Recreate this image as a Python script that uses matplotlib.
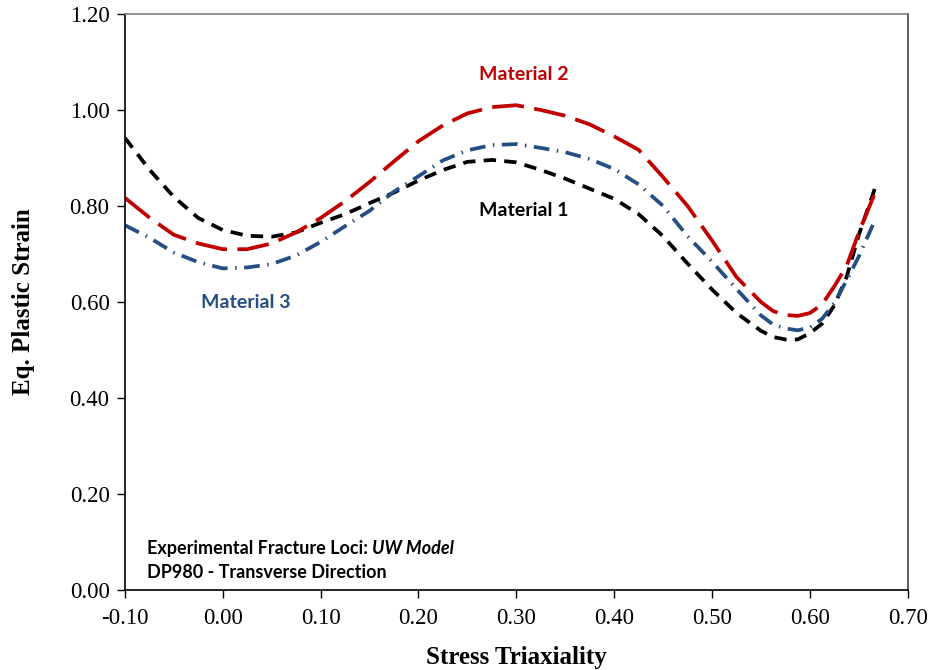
import matplotlib
matplotlib.use("Agg")
import matplotlib.pyplot as plt
from matplotlib.ticker import FormatStrFormatter

# stress triaxiality values where the curves were read
triax = [-0.100, -0.075, -0.050, -0.025, 0.000, 0.025, 0.050, 0.075, 0.100,
         0.125, 0.150, 0.175, 0.200, 0.225, 0.250, 0.275, 0.300, 0.325,
         0.350, 0.375, 0.400, 0.425, 0.450, 0.475, 0.500, 0.525, 0.550,
         0.5625, 0.575, 0.5875, 0.600, 0.6125, 0.625, 0.6375, 0.650, 0.667]

mat1 = [0.942, 0.876, 0.819, 0.775, 0.750, 0.738, 0.736, 0.745, 0.765,
        0.783, 0.806, 0.828, 0.853, 0.875, 0.892, 0.896, 0.891, 0.875,
        0.857, 0.836, 0.815, 0.783, 0.737, 0.680, 0.626, 0.577, 0.540,
        0.527, 0.522, 0.522, 0.535, 0.555, 0.593, 0.652, 0.740, 0.840]

mat2 = [0.817, 0.776, 0.740, 0.722, 0.710, 0.710, 0.722, 0.745, 0.775,
        0.810, 0.850, 0.893, 0.935, 0.968, 0.993, 1.006, 1.010, 1.000,
        0.988, 0.970, 0.945, 0.917, 0.860, 0.800, 0.728, 0.652, 0.600,
        0.581, 0.573, 0.571, 0.577, 0.595, 0.633, 0.675, 0.745, 0.830]

mat3 = [0.760, 0.734, 0.703, 0.683, 0.670, 0.672, 0.679, 0.697, 0.725,
        0.758, 0.790, 0.830, 0.862, 0.895, 0.916, 0.927, 0.929, 0.921,
        0.912, 0.898, 0.877, 0.845, 0.800, 0.737, 0.684, 0.627, 0.572,
        0.553, 0.545, 0.541, 0.547, 0.565, 0.598, 0.645, 0.695, 0.773]

xticks = [-0.10, 0.00, 0.10, 0.20, 0.30, 0.40, 0.50, 0.60, 0.70]
yticks = [0.00, 0.20, 0.40, 0.60, 0.80, 1.00, 1.20]

RED = "#C00000"
BLUE = "#254F82"
serif = "Liberation Serif"
sans = "Lato"

fig = plt.figure(figsize=(9.32, 6.70), dpi=100)
ax = fig.add_axes([0.134, 0.1194, 0.840, 0.8597])

lw = 2.7
ax.plot(triax, mat1, color="black", lw=lw, dashes=(3.3, 2.2))
ax.plot(triax, mat2, color=RED, lw=lw, dashes=(8.5, 2.8))
ax.plot(triax, mat3, color=BLUE, lw=lw, dashes=(4.2, 2.0, 0.4, 2.0))

ax.set_xlim(-0.10, 0.70)
ax.set_ylim(0.0, 1.20)
ax.set_xticks(xticks)
ax.set_yticks(yticks)
ax.xaxis.set_major_formatter(FormatStrFormatter("%.2f"))
ax.yaxis.set_major_formatter(FormatStrFormatter("%.2f"))
ax.tick_params(direction="out", length=6, width=1, labelsize=16.5, pad=5)
ax.tick_params(axis="x", pad=7)
for lab in ax.get_xticklabels() + ax.get_yticklabels():
    lab.set_family(serif)

ax.spines["left"].set_color("black")
ax.spines["bottom"].set_color("black")
ax.spines["top"].set_color("#808080")
ax.spines["right"].set_color("#404040")
for s in ax.spines.values():
    s.set_linewidth(1.2)

ax.set_xlabel("Stress Triaxiality", family=serif, fontsize=18, fontweight="bold", labelpad=12)
ax.set_ylabel("Eq. Plastic Strain", family=serif, fontsize=18, fontweight="bold", labelpad=25)

ax.text(0.308, 1.073, "Material 2", color=RED, family=sans, fontsize=14,
        fontweight="bold", ha="center", va="center")
ax.text(0.308, 0.790, "Material 1", color="black", family=sans, fontsize=14,
        fontweight="bold", ha="center", va="center")
ax.text(0.024, 0.598, "Material 3", color=BLUE, family=sans, fontsize=14,
        fontweight="bold", ha="center", va="center")

t1 = ax.text(-0.0775, 0.074, "Experimental Fracture Loci: ", family=sans, fontsize=13,
             fontweight="bold", ha="left", va="baseline")
ax.annotate("UW Model", xy=(1, 0), xycoords=t1, family=sans, fontsize=13,
            fontweight="bold", style="italic", ha="left", va="bottom")
ax.text(-0.0775, 0.026, "DP980 - Transverse Direction", family=sans, fontsize=13,
        fontweight="bold", ha="left", va="baseline")

fig.savefig("out.png", dpi=100)
